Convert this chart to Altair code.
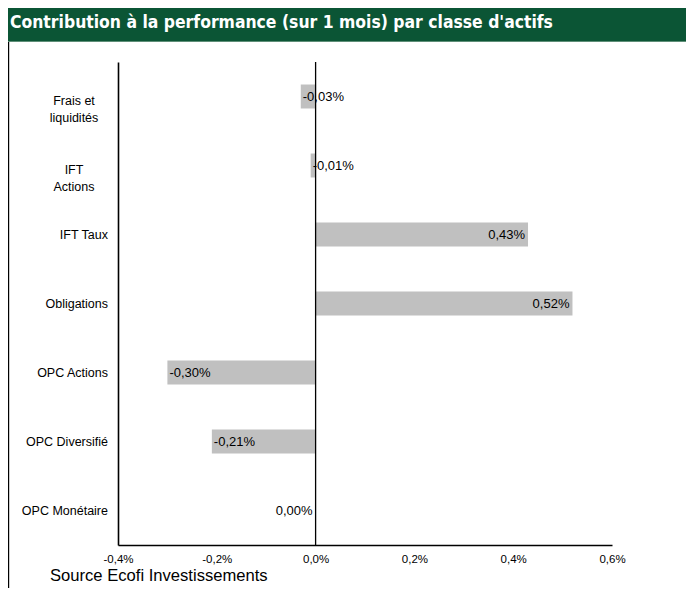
import altair as alt
import pandas as pd

categories = ["Frais et\nliquidités", "IFT\nActions", "IFT Taux", "Obligations",
              "OPC Actions", "OPC Diversifié", "OPC Monétaire"]
values = [-0.03, -0.01, 0.43, 0.52, -0.30, -0.21, 0.00]
x_ticks = [-0.4, -0.2, 0.0, 0.2, 0.4, 0.6]
title_text = "Contribution à la performance (sur 1 mois) par classe d'actifs"
source_text = "Source Ecofi Investissements"

df = pd.DataFrame({"cat": categories, "val": values})
df["label"] = [f"{v:.2f}".replace(".", ",") + "%" for v in values]
df["multi"] = ["\n" in c for c in categories]

W, H = 494, 483
FONT = "Liberation Sans"

xs = alt.Scale(domain=[-0.4, 0.6], nice=False, zero=False)
ys = alt.Scale(domain=categories)

base = alt.Chart(df)

bars = base.mark_bar(color="#c0c0c0", size=24).encode(
    x=alt.X("val:Q", scale=xs,
            axis=alt.Axis(values=x_ticks, ticks=False, grid=False, title=None,
                          labelExpr="replace(replace(format(datum.value, '.1f'), '.', ','), '\u2212', '-') + '%'",
                          labelFont=FONT, labelFontSize=11.5, labelColor="#000",
                          labelFlush=False, labelOverlap=False,
                          labelPadding=8, domainColor="#000", domainWidth=1.6)),
    x2=alt.datum(0),
    y=alt.Y("cat:N", scale=ys,
            axis=alt.Axis(labels=False, ticks=False, grid=False, title=None,
                          domainColor="#000", domainWidth=1.6)),
)

zero_rule = alt.Chart(pd.DataFrame({"z": [0.0]})).mark_rule(color="#000", strokeWidth=1.3).encode(
    x=alt.X("z:Q", scale=xs), y=alt.value(0), y2=alt.value(H)
)

lab_neg = base.transform_filter("datum.val < 0").mark_text(
    align="left", baseline="middle", dx=2, font=FONT, fontSize=13, color="#000"
).encode(x=alt.X("val:Q", scale=xs), y=alt.Y("cat:N", scale=ys), text="label:N")

lab_pos = base.transform_filter("datum.val >= 0").mark_text(
    align="right", baseline="middle", dx=-3, font=FONT, fontSize=13, color="#000"
).encode(x=alt.X("val:Q", scale=xs), y=alt.Y("cat:N", scale=ys), text="label:N")

cat_single = base.transform_filter("!datum.multi").mark_text(
    align="right", baseline="middle", font=FONT, fontSize=12.5, color="#000"
).encode(x=alt.value(-10), y=alt.Y("cat:N", scale=ys), text="cat:N")

cat_multi = base.transform_filter("datum.multi").mark_text(
    align="center", baseline="middle", font=FONT, fontSize=12.5, color="#000",
    lineBreak="\n", lineHeight=17, dy=4
).encode(x=alt.value(-44), y=alt.Y("cat:N", scale=ys), text="cat:N")

header = alt.Chart(pd.DataFrame({"t": [title_text]})).mark_rect(color="#0b5535").encode(
    x=alt.value(-110), x2=alt.value(576), y=alt.value(-54), y2=alt.value(-21)
)
header_line = alt.Chart(pd.DataFrame({"t": [title_text]})).mark_rect(color="#5f8f78").encode(
    x=alt.value(-110), x2=alt.value(576), y=alt.value(-21), y2=alt.value(-20)
)
title = alt.Chart(pd.DataFrame({"t": [title_text]})).mark_text(
    align="left", baseline="middle", font="DejaVu Sans Condensed", fontWeight="bold",
    fontSize=17.4, color="#ffffff"
).encode(x=alt.value(-108), y=alt.value(-39), text="t:N")

border = alt.Chart(pd.DataFrame({"t": [0]})).mark_rule(color="#000", strokeWidth=1.2).encode(
    x=alt.value(-109.4), y=alt.value(-20), y2=alt.value(540)
)

source = alt.Chart(pd.DataFrame({"t": [source_text]})).mark_text(
    align="left", baseline="alphabetic", font=FONT, fontSize=16.6, color="#000"
).encode(x=alt.value(-68), y=alt.value(519), text="t:N")

chart = alt.layer(
    header, header_line, title, border, bars, zero_rule, lab_neg, lab_pos,
    cat_single, cat_multi, source
).properties(
    width=W, height=H,
    autosize=alt.AutoSizeParams(type="none"),
    padding={"left": 110, "top": 54, "right": 74, "bottom": 43},
    background="#ffffff",
).configure_view(stroke=None)

chart.save("out.html", embed_options={"renderer": "svg", "actions": False})
